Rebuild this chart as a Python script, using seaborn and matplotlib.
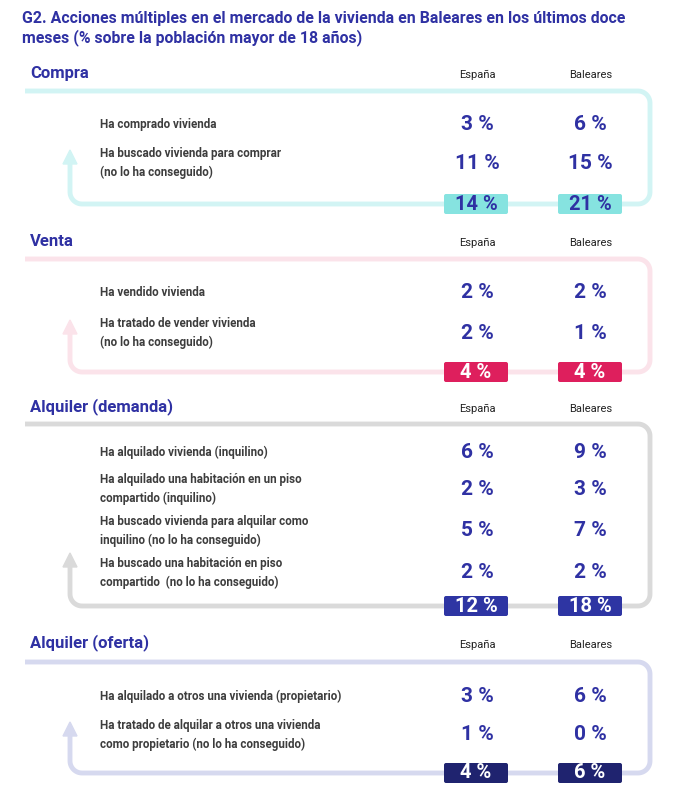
import numpy as np
import matplotlib
matplotlib.use("Agg")
import matplotlib.pyplot as plt
import seaborn as sns
from matplotlib.patches import FancyBboxPatch, Polygon

sections = ["Compra", "Venta", "Alquiler (demanda)", "Alquiler (oferta)"]
columns = ["España", "Baleares"]

compra_labels = ["Ha comprado vivienda",
                 "Ha buscado vivienda para comprar\n(no lo ha conseguido)"]
compra_es = [3, 11]
compra_bal = [6, 15]
compra_tot = [14, 21]

venta_labels = ["Ha vendido vivienda",
                "Ha tratado de vender vivienda\n(no lo ha conseguido)"]
venta_es = [2, 2]
venta_bal = [2, 1]
venta_tot = [4, 4]

demanda_labels = ["Ha alquilado vivienda (inquilino)",
                  "Ha alquilado una habitación en un piso\ncompartido (inquilino)",
                  "Ha buscado vivienda para alquilar como\ninquilino (no lo ha conseguido)",
                  "Ha buscado una habitación en piso\ncompartido  (no lo ha conseguido)"]
demanda_es = [6, 2, 5, 2]
demanda_bal = [9, 3, 7, 2]
demanda_tot = [12, 18]

oferta_labels = ["Ha alquilado a otros una vivienda (propietario)",
                 "Ha tratado de alquilar a otros una vivienda\ncomo propietario (no lo ha conseguido)"]
oferta_es = [3, 1]
oferta_bal = [6, 0]
oferta_tot = [4, 6]

sns.set_theme(style="white")
plt.rcParams["font.family"] = ["Roboto", "DejaVu Sans"]

BLUE = "#2f31a3"
TEXT = "#3d3d3d"

# layout in pixels: header y, frame top, frame bottom, row ys, arrow tip, colours
layout = [
    dict(head=73, top=91, bottom=204, rows=[124, 163], tip=150,
         line="#d2f4f4", box="#86e3e0", boxtext=BLUE,
         labels=compra_labels, es=compra_es, bal=compra_bal, tot=compra_tot),
    dict(head=241, top=259, bottom=372, rows=[293, 333], tip=320,
         line="#fbe3ea", box="#de1f5d", boxtext="white",
         labels=venta_labels, es=venta_es, bal=venta_bal, tot=venta_tot),
    dict(head=407, top=424, bottom=606, rows=[452, 489, 531, 573], tip=553,
         line="#dadada", box="#2e35a3", boxtext="white",
         labels=demanda_labels, es=demanda_es, bal=demanda_bal, tot=demanda_tot),
    dict(head=643, top=662, bottom=773, rows=[696, 735], tip=722,
         line="#d6d9ef", box="#1f236f", boxtext="white",
         labels=oferta_labels, es=oferta_es, bal=oferta_bal, tot=oferta_tot),
]

col_x = [477, 591]
box_x = [476, 590]

fig = plt.figure(figsize=(6.76, 8.09), dpi=100)
ax = fig.add_axes([0, 0, 1, 1])
ax.set_xlim(0, 676)
ax.set_ylim(809, 0)
ax.axis("off")

ax.text(22, 18, "G2. Acciones múltiples en el mercado de la vivienda en Baleares en los últimos doce",
        color=BLUE, fontsize=11.4, fontweight="bold", va="center", ha="left")
ax.text(22, 38, "meses (% sobre la población mayor de 18 años)",
        color=BLUE, fontsize=11.4, fontweight="bold", va="center", ha="left")


def frame(y_top, y_bot, tip, color):
    r = 12
    x_l, x_arrow, x_r = 25, 70, 650
    pts = [(x_l, y_top), (x_r - r, y_top)]
    t = np.linspace(-np.pi / 2, 0, 12)
    pts += list(zip(x_r - r + r * np.cos(t), y_top + r + r * np.sin(t)))
    t = np.linspace(0, np.pi / 2, 12)
    pts += list(zip(x_r - r + r * np.cos(t), y_bot - r + r * np.sin(t)))
    t = np.linspace(np.pi / 2, np.pi, 12)
    pts += list(zip(x_arrow + r + r * np.cos(t), y_bot - r + r * np.sin(t)))
    pts += [(x_arrow, tip + 10)]
    xs, ys = zip(*pts)
    ax.plot(xs, ys, color=color, lw=3.5, solid_capstyle="butt", zorder=1)
    ax.add_patch(Polygon([(x_arrow - 7, tip + 14), (x_arrow + 7, tip + 14), (x_arrow, tip)],
                         closed=True, color=color, zorder=1))


for name, sec in zip(sections, layout):
    ax.text(30, sec["head"], name, color=BLUE, fontsize=12, fontweight="bold",
            va="center", ha="left")
    for cx, col in zip(col_x, columns):
        ax.text(cx, sec["head"] + 2, col, color="#222222", fontsize=8,
                va="center", ha="center")
    frame(sec["top"], sec["bottom"], sec["tip"], sec["line"])
    for y, lab, e, b in zip(sec["rows"], sec["labels"], sec["es"], sec["bal"]):
        ax.text(100, y, lab, color=TEXT, fontsize=8.4, fontweight="bold",
                va="center", ha="left", linespacing=1.5)
        ax.text(col_x[0], y, f"{e} %", color=BLUE, fontsize=15, fontweight="bold",
                va="center", ha="center")
        ax.text(col_x[1] - 1, y, f"{b} %", color=BLUE, fontsize=15, fontweight="bold",
                va="center", ha="center")
    for bx, v in zip(box_x, sec["tot"]):
        ax.add_patch(FancyBboxPatch((bx - 31, sec["bottom"] - 9), 62, 18,
                                    boxstyle="round,pad=1,rounding_size=2",
                                    facecolor=sec["box"], edgecolor="none", zorder=2))
        ax.text(bx, sec["bottom"], f"{v} %", color=sec["boxtext"], fontsize=14.5,
                fontweight="bold", va="center", ha="center", zorder=3)

fig.savefig("out.png", dpi=100, facecolor="white")
